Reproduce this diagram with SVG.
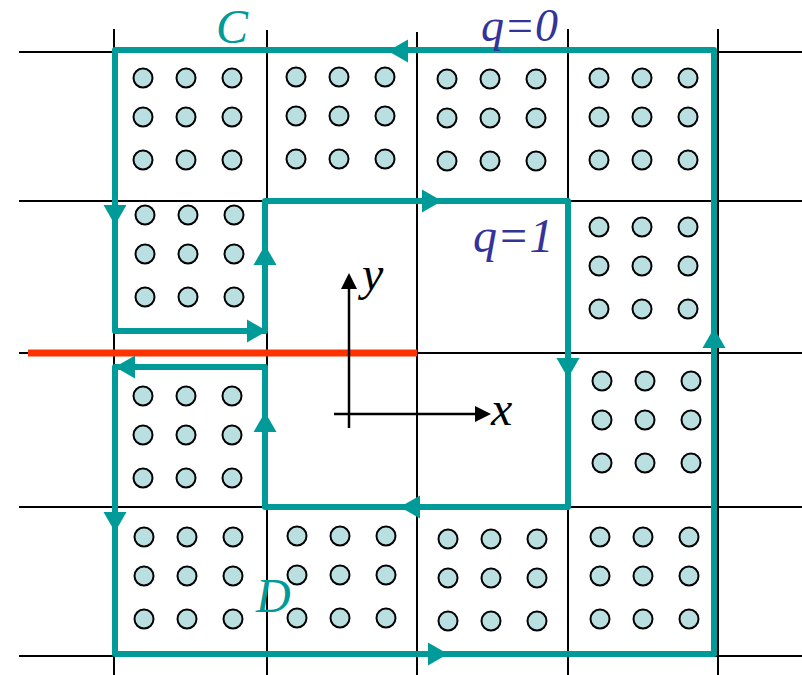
<svg xmlns="http://www.w3.org/2000/svg" xmlns:xlink="http://www.w3.org/1999/xlink" width="802" height="675" viewBox="0 0 802 675">
<style>
.grid{stroke:#000;stroke-width:2;fill:none}
.dot{fill:#BADFE0;stroke:#000;stroke-width:2}
.path{stroke:#009B99;stroke-width:6;fill:none;stroke-linejoin:round}
.ah{fill:#009B99}
.lab{font-family:"Liberation Serif","Times New Roman",serif;font-style:italic;font-size:48px}
.axis{stroke:#000;stroke-width:2.5;fill:none}
</style>
<defs>
<path id="ah" d="M0,0 L-20,-11.5 L-20,11.5 Z"/>
<path id="axh" d="M0,0 L-16,-8 L-16,8 Z"/>
<g id="cell">
<circle class="dot" cx="0" cy="0" r="9.5"/><circle class="dot" cx="43" cy="0" r="9.5"/><circle class="dot" cx="89" cy="0" r="9.5"/>
<circle class="dot" cx="0" cy="39" r="9.5"/><circle class="dot" cx="43" cy="39" r="9.5"/><circle class="dot" cx="89" cy="39" r="9.5"/>
<circle class="dot" cx="0" cy="82" r="9.5"/><circle class="dot" cx="43" cy="82" r="9.5"/><circle class="dot" cx="89" cy="82" r="9.5"/>
</g>
</defs>
<rect width="802" height="675" fill="#fff"/>
<g id="grid" class="grid">
<line x1="19" y1="52" x2="802" y2="52"/>
<line x1="19" y1="201" x2="802" y2="201"/>
<line x1="19" y1="353" x2="802" y2="353"/>
<line x1="19" y1="507" x2="802" y2="507"/>
<line x1="19" y1="656" x2="802" y2="656"/>
<line x1="114" y1="29" x2="114" y2="675"/>
<line x1="267" y1="30" x2="267" y2="675"/>
<line x1="417" y1="32" x2="417" y2="675"/>
<line x1="568" y1="29" x2="568" y2="675"/>
<line x1="718" y1="29" x2="718" y2="675"/>
</g>
<g id="dots">
<use href="#cell" x="143" y="78"/>
<use href="#cell" x="296" y="77"/>
<use href="#cell" x="447" y="79"/>
<use href="#cell" x="599" y="78"/>
<use href="#cell" x="145" y="215"/>
<use href="#cell" x="599" y="227"/>
<use href="#cell" x="143" y="396"/>
<use href="#cell" x="602" y="381"/>
<use href="#cell" x="144" y="537"/>
<use href="#cell" x="297" y="536"/>
<use href="#cell" x="448" y="539"/>
<use href="#cell" x="600" y="537"/>
</g>
<line id="cut" x1="28" y1="353" x2="417" y2="353" stroke="#FF3300" stroke-width="7"/>
<g id="axes">
<line class="axis" x1="349" y1="285" x2="349" y2="428"/>
<use href="#axh" transform="translate(349,273) rotate(-90)"/>
<line class="axis" x1="334" y1="414" x2="478" y2="414"/>
<use href="#axh" transform="translate(491,414)"/>
<text class="lab" x="362" y="290" fill="#000">y</text>
<text class="lab" x="491" y="425" fill="#000">x</text>
</g>
<g id="connectors">
<path class="path" d="M714,50 L115,50 L115,331 L265,331 L265,201 L568,201 L568,507 L265,507 L265,367 L115,367 L115,654 L714,654 Z"/>
<g class="ah">
<use href="#ah" transform="translate(388,51) rotate(180)"/>
<use href="#ah" transform="translate(115,225) rotate(90)"/>
<use href="#ah" transform="translate(267,331)"/>
<use href="#ah" transform="translate(265,245) rotate(-90)"/>
<use href="#ah" transform="translate(442,201)"/>
<use href="#ah" transform="translate(568,378) rotate(90)"/>
<use href="#ah" transform="translate(400,507) rotate(180)"/>
<use href="#ah" transform="translate(265,412) rotate(-90)"/>
<use href="#ah" transform="translate(115,367) rotate(180)"/>
<use href="#ah" transform="translate(115,532) rotate(90)"/>
<use href="#ah" transform="translate(448,654)"/>
<use href="#ah" transform="translate(714,328) rotate(-90)"/>
</g>
</g>
<g id="labels">
<text class="lab" x="216" y="43" fill="#009B99">C</text>
<text class="lab" x="481" y="41" fill="#333399" style="font-size:46px">q=0</text>
<text class="lab" x="473" y="252" fill="#333399">q=1</text>
<text class="lab" x="256" y="612" fill="#009B99">D</text>
</g>
</svg>
